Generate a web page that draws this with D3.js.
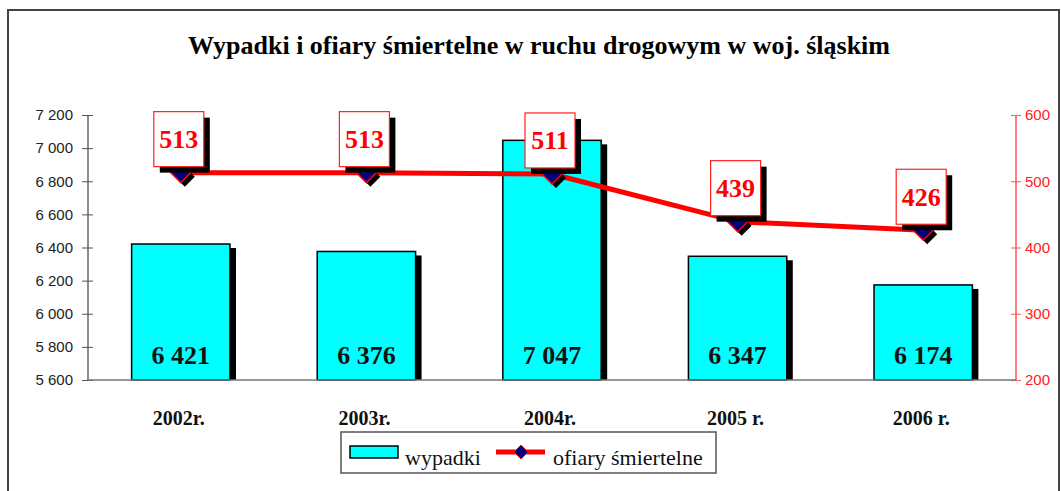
<!DOCTYPE html>
<html>
<head>
<meta charset="utf-8">
<script src="https://cdn.jsdelivr.net/npm/d3@7"></script>
<style>
  html, body { margin: 0; padding: 0; background: #fff; }
  svg { display: block; }
</style>
</head>
<body>
<div id="chart"></div>
<script>
const years = ["2002r.", "2003r.", "2004r.", "2005 r.", "2006 r."];
const accidents = [6421, 6376, 7047, 6347, 6174];
const deaths = [513, 513, 511, 439, 426];
const leftTicks = [5600, 5800, 6000, 6200, 6400, 6600, 6800, 7000, 7200];
const rightTicks = [200, 300, 400, 500, 600];

const W = 1061, H = 491;
const serif = "'Liberation Serif', 'DejaVu Serif', serif";
const sans = "'Liberation Sans', 'DejaVu Sans', sans-serif";
const spaced = d3.format(",");
const fmt = (v) => spaced(v).replace(/,/g, " ");

const svg = d3.select("#chart").append("svg").attr("width", W).attr("height", H);

// ── Outer frame ─────────────────────────────────────────────
svg.append("path")
  .attr("d", `M8,${H} V10 H1059 V${H}`)
  .attr("fill", "none").attr("stroke", "#444").attr("stroke-width", 2);

// ── Title ───────────────────────────────────────────────────
svg.append("text")
  .attr("x", 539).attr("y", 54)
  .attr("text-anchor", "middle")
  .attr("font-family", serif).attr("font-weight", "bold").attr("font-size", 26)
  .text("Wypadki i ofiary śmiertelne w ruchu drogowym w woj. śląskim");

// ── Scales ──────────────────────────────────────────────────
const plot = { left: 88, right: 1016, top: 115, bottom: 380 };
const x = d3.scaleBand().domain(years).range([plot.left, plot.right]).paddingInner(0.47).paddingOuter(0.235);
const xc = (d) => x(d) + x.bandwidth() / 2;
const yL = d3.scaleLinear().domain([5600, 7200]).range([plot.bottom, plot.top]);
const yR = d3.scaleLinear().domain([200, 600]).range([plot.bottom, plot.top]);

// ── Bars ────────────────────────────────────────────────────
const bars = svg.append("g");
bars.selectAll("rect.shadow").data(accidents).join("rect")
  .attr("class", "shadow")
  .attr("x", (d, i) => x(years[i]) + 6)
  .attr("y", (d) => yL(d) + 4)
  .attr("width", x.bandwidth())
  .attr("height", (d) => plot.bottom - yL(d) - 4)
  .attr("fill", "#000");
bars.selectAll("rect.bar").data(accidents).join("rect")
  .attr("class", "bar")
  .attr("x", (d, i) => x(years[i]))
  .attr("y", (d) => yL(d))
  .attr("width", x.bandwidth())
  .attr("height", (d) => plot.bottom - yL(d))
  .attr("fill", "#00ffff").attr("stroke", "#000").attr("stroke-width", 1.5);
bars.selectAll("text").data(accidents).join("text")
  .attr("x", (d, i) => xc(years[i]))
  .attr("y", 364)
  .attr("text-anchor", "middle")
  .attr("font-family", serif).attr("font-weight", "bold").attr("font-size", 26)
  .attr("fill", "#111")
  .text((d) => fmt(d));

// ── Axes ────────────────────────────────────────────────────
const leftAxis = svg.append("g").attr("transform", `translate(${plot.left},0)`)
  .call(d3.axisLeft(yL).tickValues(leftTicks).tickSize(5).tickFormat(fmt));
leftAxis.select(".domain").attr("stroke", "#666").attr("stroke-width", 1.5).attr("d", `M0,${plot.top}V${plot.bottom}`);
leftAxis.selectAll(".tick line").attr("stroke", "#555").attr("x1", 5).attr("x2", -6);
leftAxis.selectAll(".tick text")
  .attr("x", -15).attr("font-family", sans).attr("font-size", 15).attr("fill", "#222");

const rightAxis = svg.append("g").attr("transform", `translate(${plot.right},0)`)
  .call(d3.axisRight(yR).tickValues(rightTicks).tickSize(5));
rightAxis.select(".domain").attr("stroke", "#ff5555").attr("stroke-width", 1.5).attr("d", `M0,${plot.top}V${plot.bottom}`);
rightAxis.selectAll(".tick line").attr("stroke", "#ff5555").attr("x1", -5).attr("x2", 5);
rightAxis.selectAll(".tick text")
  .attr("x", 9).attr("font-family", sans).attr("font-size", 15).attr("fill", "#ff2020");

svg.append("line")
  .attr("x1", plot.left).attr("x2", plot.right)
  .attr("y1", plot.bottom).attr("y2", plot.bottom)
  .attr("stroke", "#777").attr("stroke-width", 1.5);

// category labels
svg.append("g").selectAll("text").data(years).join("text")
  .attr("x", (d) => xc(d) - 2)
  .attr("y", 425)
  .attr("text-anchor", "middle")
  .attr("font-family", serif).attr("font-weight", "bold").attr("font-size", 20)
  .attr("fill", "#111")
  .text((d) => d);

// ── Line series ─────────────────────────────────────────────
const line = d3.line().x((d, i) => xc(years[i])).y((d) => yR(d));
svg.append("path").datum(deaths)
  .attr("d", line)
  .attr("fill", "none").attr("stroke", "#ff0000").attr("stroke-width", 5)
  .attr("stroke-linejoin", "round");

const diamond = (cx, cy, r) => `M${cx},${cy - r}L${cx + r},${cy}L${cx},${cy + r}L${cx - r},${cy}Z`;
const marks = svg.append("g");
marks.selectAll("path.ds").data(deaths).join("path")
  .attr("d", (d, i) => diamond(xc(years[i]) + 4, yR(d) + 4, 10))
  .attr("fill", "#000");
marks.selectAll("path.dm").data(deaths).join("path")
  .attr("d", (d, i) => diamond(xc(years[i]), yR(d), 10))
  .attr("fill", "#000080").attr("stroke", "#ff0000").attr("stroke-width", 1.5);

// value boxes
const boxW = 50, boxH = 55, gap = 6;
const labels = svg.append("g");
labels.selectAll("rect.bs").data(deaths).join("rect")
  .attr("x", (d, i) => xc(years[i]) - boxW / 2 + 4)
  .attr("y", (d) => yR(d) - gap - boxH + 6)
  .attr("width", boxW).attr("height", boxH)
  .attr("fill", "#000");
labels.selectAll("rect.bx").data(deaths).join("rect")
  .attr("x", (d, i) => xc(years[i]) - boxW / 2 - 2)
  .attr("y", (d) => yR(d) - gap - boxH)
  .attr("width", boxW).attr("height", boxH)
  .attr("fill", "#fff").attr("stroke", "#ff2020").attr("stroke-width", 1.2);
labels.selectAll("text").data(deaths).join("text")
  .attr("x", (d, i) => xc(years[i]) - 2)
  .attr("y", (d) => yR(d) - gap - boxH / 2 + 9)
  .attr("text-anchor", "middle")
  .attr("font-family", serif).attr("font-weight", "bold").attr("font-size", 26)
  .attr("fill", "#ff0000")
  .text((d) => d);

// ── Legend ──────────────────────────────────────────────────
const lg = svg.append("g");
lg.append("rect").attr("x", 341).attr("y", 432).attr("width", 375).attr("height", 41)
  .attr("fill", "#fff").attr("stroke", "#555").attr("stroke-width", 1.5);
lg.append("rect").attr("x", 350).attr("y", 446).attr("width", 48).attr("height", 12)
  .attr("fill", "#00ffff").attr("stroke", "#000").attr("stroke-width", 1.5);
lg.append("text").attr("x", 405).attr("y", 465)
  .attr("font-family", serif).attr("font-size", 22).attr("fill", "#111").text("wypadki");
lg.append("line").attr("x1", 496).attr("x2", 545).attr("y1", 452).attr("y2", 452)
  .attr("stroke", "#ff0000").attr("stroke-width", 5);
lg.append("path").attr("d", diamond(521, 452, 7))
  .attr("fill", "#000080").attr("stroke", "#ff0000").attr("stroke-width", 1);
lg.append("text").attr("x", 553).attr("y", 465)
  .attr("font-family", serif).attr("font-size", 22).attr("fill", "#111").text("ofiary śmiertelne");
</script>
</body>
</html>
